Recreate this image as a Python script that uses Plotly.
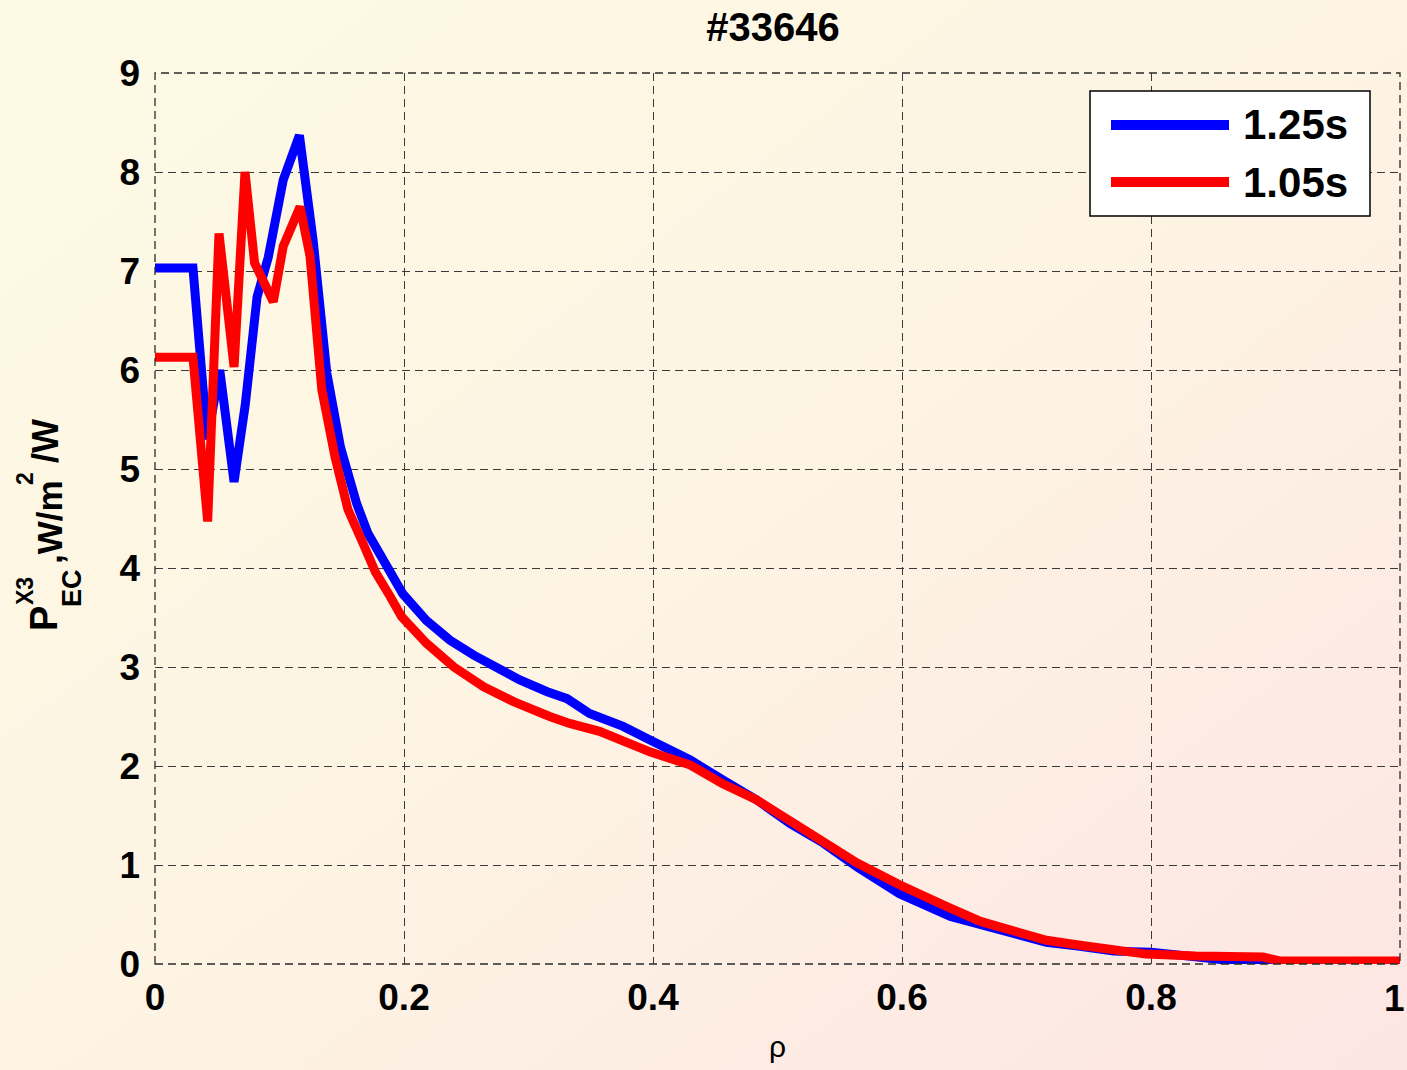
import plotly.graph_objects as go

# ---- data ----
rho_125 = [0, 0.0305, 0.042, 0.052, 0.0635, 0.0725, 0.082, 0.091, 0.103, 0.116, 0.127, 0.138,
           0.149, 0.162, 0.171, 0.182, 0.199, 0.218, 0.237, 0.256, 0.274, 0.293, 0.315, 0.331,
           0.349, 0.376, 0.398, 0.430, 0.456, 0.483, 0.510, 0.537, 0.564, 0.598, 0.639, 0.663,
           0.689, 0.716, 0.743, 0.770, 0.800, 0.836, 0.870, 0.890, 1.0]
p_125 = [7.03, 7.03, 5.3, 6.0, 4.87, 5.65, 6.74, 7.14, 7.92, 8.37, 7.31, 5.97,
         5.22, 4.65, 4.35, 4.10, 3.74, 3.47, 3.27, 3.12, 2.99, 2.87, 2.75, 2.68,
         2.53, 2.40, 2.26, 2.06, 1.86, 1.66, 1.42, 1.22, 0.98, 0.71, 0.48, 0.40,
         0.31, 0.22, 0.18, 0.13, 0.12, 0.07, 0.04, 0.0, 0.0]

rho_105 = [0, 0.0305, 0.0423, 0.0514, 0.0635, 0.0723, 0.080, 0.095, 0.103, 0.1165, 0.1245,
           0.134, 0.1446, 0.155, 0.166, 0.177, 0.189, 0.198, 0.218, 0.240, 0.264, 0.288,
           0.317, 0.333, 0.357, 0.376, 0.398, 0.430, 0.456, 0.483, 0.510, 0.537, 0.564,
           0.598, 0.614, 0.636, 0.663, 0.689, 0.716, 0.743, 0.770, 0.796, 0.836, 0.890,
           0.904, 1.0]
p_105 = [6.13, 6.13, 4.47, 7.38, 6.03, 8.0, 7.08, 6.69, 7.25, 7.65, 7.15,
         5.80, 5.12, 4.59, 4.28, 3.96, 3.71, 3.51, 3.24, 3.00, 2.80, 2.65,
         2.50, 2.43, 2.35, 2.25, 2.14, 2.01, 1.82, 1.66, 1.45, 1.25, 1.02,
         0.80, 0.70, 0.58, 0.43, 0.33, 0.24, 0.19, 0.14, 0.10, 0.08, 0.07,
         0.03, 0.03]

series_names = ["1.25s", "1.05s"]
series_colors = ["#0000FF", "#FF0000"]
x_ticks = [0, 0.2, 0.4, 0.6, 0.8, 1]
x_tick_labels = ["0", "0.2", "0.4", "0.6", "0.8", "1"]
y_ticks = list(range(0, 10))
title_text = "#33646"
x_title = "ρ"

# ---- layout geometry (pixels) ----
W, H = 1407, 1070
L, R, T, B = 155, 7, 73, 106
PW, PH = W - L - R, H - T - B


def px(xp):
    return (xp - L) / PW


def py(yp):
    return (H - B - yp) / PH


FONT = "Liberation Sans, Arial, sans-serif"
TICKFONT = dict(family=FONT, size=37, color="black", weight="bold")

fig = go.Figure()
fig.add_trace(go.Scatter(x=rho_125, y=p_125, mode="lines", name=series_names[0],
                         line=dict(color=series_colors[0], width=9), showlegend=False))
fig.add_trace(go.Scatter(x=rho_105, y=p_105, mode="lines", name=series_names[1],
                         line=dict(color=series_colors[1], width=9), showlegend=False))

grid = dict(showgrid=True, gridcolor="#3a3a3a", gridwidth=1, griddash="8px,5px",
            zeroline=False, showline=False, ticks="", tickfont=TICKFONT)

# last x label ("1") sits right at the page edge: draw it as an annotation so it never overflows
x_ticktext_axis = x_tick_labels[:-1] + [""]
fig.update_xaxes(range=[0, 1], tickvals=x_ticks, ticktext=x_ticktext_axis,
                 ticklabelstandoff=8,
                 title=dict(text=x_title, font=dict(family=FONT, size=30, color="black"),
                            standoff=18), **grid)
fig.update_yaxes(range=[0, 9], tickvals=y_ticks, ticklabelstandoff=14, **grid)

svg = ("data:image/svg+xml;utf8,<svg xmlns='http://www.w3.org/2000/svg' width='100' height='100' "
       "preserveAspectRatio='none'><defs><linearGradient id='g' x1='0' y1='0' x2='1' y2='1'>"
       "<stop offset='0' stop-color='%23FDFAE4'/><stop offset='0.5' stop-color='%23FDF4E3'/>"
       "<stop offset='1' stop-color='%23FDE5E3'/></linearGradient></defs>"
       "<rect width='100' height='100' fill='url(%23g)'/></svg>")

shapes = [
    dict(type="rect", xref="paper", yref="paper", x0=0, x1=1, y0=0, y1=1,
         line=dict(color="#2a2a2a", width=1.3, dash="8px,5px"), layer="above"),
    # legend box
    dict(type="rect", xref="paper", yref="paper", x0=px(1090), x1=px(1370), y0=py(216), y1=py(91),
         line=dict(color="black", width=1.5), fillcolor="white", layer="above"),
]
annotations = [
    dict(xref="paper", yref="paper", x=px(1406), y=py(998), text=x_tick_labels[-1],
         showarrow=False, xanchor="right", yanchor="middle", borderpad=0, font=TICKFONT),
]
for i, (nm, col) in enumerate(zip(series_names, series_colors)):
    yy = py(125 + i * 57)
    shapes.append(dict(type="line", xref="paper", yref="paper", x0=px(1111), x1=px(1229),
                       y0=yy, y1=yy, line=dict(color=col, width=10), layer="above"))
    annotations.append(dict(xref="paper", yref="paper", x=px(1241), y=yy, text=nm,
                            showarrow=False, xanchor="left", yanchor="middle",
                            font=dict(family=FONT, size=42, color="black", weight="bold")))

# y-axis label pieces: P^{X3}_{EC},W/m^2/W (rotated)
ylabel_parts = [
    ("P", 44, 619, 38),
    ("X3", 25, 591, 23),
    ("EC", 72, 588, 27),
    (",W/m", 49, 522, 35),
    ("2", 25, 479, 23),
    ("/W", 45, 441, 36),
]
for txt, xp_, yp_, sz in ylabel_parts:
    annotations.append(dict(xref="paper", yref="paper", x=px(xp_), y=py(yp_), text=txt,
                            showarrow=False, textangle=-90, xanchor="center", yanchor="middle",
                            font=dict(family=FONT, size=sz, color="black", weight="bold")))

fig.update_layout(
    width=W, height=H,
    margin=dict(l=L, r=R, t=T, b=B),
    paper_bgcolor="#FDF6E4",
    plot_bgcolor="white",
    title=dict(text=title_text, xref="paper", x=px(773), xanchor="center",
               yref="container", y=1 - 27 / H, yanchor="middle",
               font=dict(family=FONT, size=40, color="black", weight="bold")),
    shapes=shapes,
    annotations=annotations,
    images=[dict(source=svg, xref="paper", yref="paper", x=-L / PW, y=1 + T / PH,
                 sizex=W / PW, sizey=H / PH, sizing="stretch", xanchor="left", yanchor="top",
                 layer="below")],
    showlegend=False,
)

fig.write_html("out.html")
